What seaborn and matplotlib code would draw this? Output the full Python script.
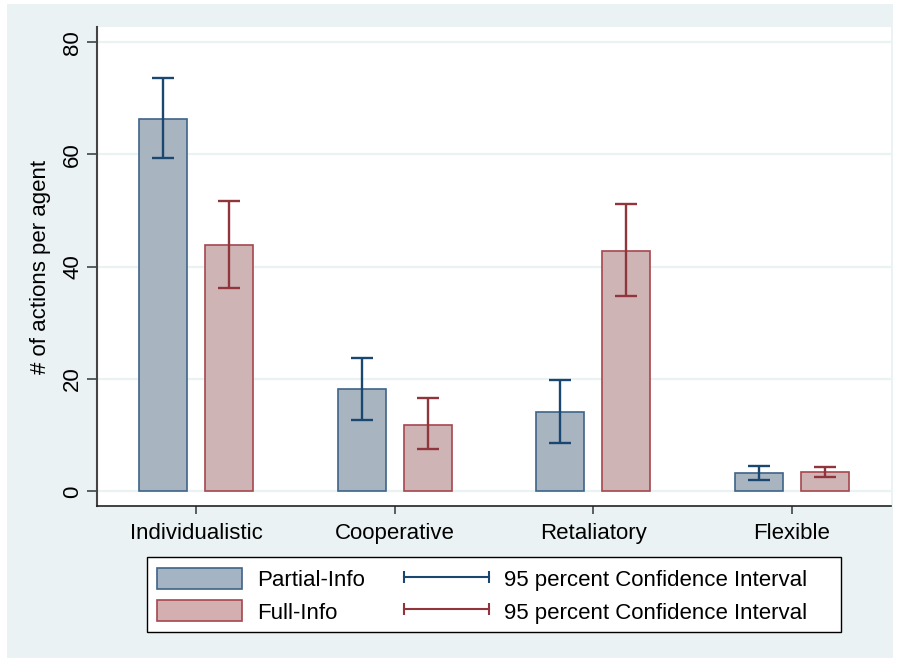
import seaborn as sns
import matplotlib.pyplot as plt
import pandas as pd
from matplotlib.patches import Patch, Rectangle
from matplotlib.lines import Line2D
from matplotlib.legend_handler import HandlerLine2D

# Data
strategies = ['Individualistic', 'Cooperative', 'Retaliatory', 'Flexible']
partial_mean = [66.3, 18.2, 14.1, 3.3]
partial_lo = [59.3, 12.8, 8.7, 2.1]
partial_hi = [73.6, 23.7, 19.8, 4.5]
full_mean = [43.9, 11.9, 42.8, 3.4]
full_lo = [36.3, 7.6, 34.8, 2.5]
full_hi = [51.7, 16.6, 51.2, 4.3]
groups = ['Partial-Info', 'Full-Info']

df = pd.DataFrame({
    'Strategy': strategies * 2,
    'Group': [groups[0]] * 4 + [groups[1]] * 4,
    'Mean': partial_mean + full_mean,
    'Lo': partial_lo + full_lo,
    'Hi': partial_hi + full_hi,
})

bg = '#EAF2F3'
fills = {'Partial-Info': '#A4B4C4', 'Full-Info': '#D4AFB2'}
edges = {'Partial-Info': '#3E6489', 'Full-Info': '#A5474E'}
ci_cols = {'Partial-Info': '#1A476F', 'Full-Info': '#90353B'}

plt.rcParams['font.family'] = ['Liberation Sans', 'DejaVu Sans']
plt.rcParams['font.size'] = 16

fig = plt.figure(figsize=(9.02, 6.58), dpi=100, facecolor='white')
fig.patches.append(Rectangle((7 / 902, 0), 886 / 902, 654 / 658, transform=fig.transFigure,
                             facecolor=bg, edgecolor='none', zorder=-10))
ax = fig.add_axes([97 / 902, 1 - 506 / 658, 794 / 902, 479 / 658])
ax.set_facecolor('white')

sns.barplot(data=df, x='Strategy', y='Mean', hue='Group', order=strategies, hue_order=groups,
            palette=fills, width=0.664, gap=0.27, errorbar=None, linewidth=1.2,
            legend=False, ax=ax, zorder=3)

# colour bar edges and add CI whiskers
for container, g in zip(ax.containers, groups):
    sub = df[df['Group'] == g].set_index('Strategy').loc[strategies]
    xs = []
    for bar in container:
        bar.set_edgecolor(edges[g])
        xs.append(bar.get_x() + bar.get_width() / 2)
    ax.errorbar(xs, sub['Mean'], yerr=[sub['Mean'] - sub['Lo'], sub['Hi'] - sub['Mean']],
                fmt='none', ecolor=ci_cols[g], elinewidth=1.7, capsize=8, capthick=1.7, zorder=4)

ax.set_xlim(-0.5, 3.5)
ax.set_ylim(-2.6, 82.7)
ax.set_yticks([0, 20, 40, 60, 80])
ax.yaxis.grid(True, color=bg, linewidth=1.6, zorder=0)
ax.set_axisbelow(True)
ax.set_xlabel('')
ax.set_ylabel('# of actions per agent', fontsize=16, labelpad=8)
for s in ['top', 'right']:
    ax.spines[s].set_visible(False)
ax.spines['left'].set_color('#444444')
ax.spines['left'].set_linewidth(1.5)
ax.spines['bottom'].set_color('#222222')
ax.spines['bottom'].set_linewidth(1.2)
ax.tick_params(axis='y', length=7, width=1.2, color='#444444', labelsize=16, labelrotation=90, pad=3)
ax.tick_params(axis='x', length=6, width=1.2, color='#444444', labelsize=16, pad=6)
for lab in ax.get_yticklabels():
    lab.set_va('center')

# legend box
fig.patches.append(Rectangle((147 / 902, 1 - 632 / 658), 694 / 902, 75 / 658, transform=fig.transFigure,
                             facecolor='white', edgecolor='black', linewidth=1.0, zorder=1))
handles = [
    Patch(facecolor=fills['Partial-Info'], edgecolor=edges['Partial-Info'], linewidth=1.2),
    Patch(facecolor=fills['Full-Info'], edgecolor=edges['Full-Info'], linewidth=1.2),
    Line2D([0, 1], [0, 0], color=ci_cols['Partial-Info'], linewidth=1.5, marker='|', markersize=9, markeredgewidth=1.5),
    Line2D([0, 1], [0, 0], color=ci_cols['Full-Info'], linewidth=1.5, marker='|', markersize=9, markeredgewidth=1.5),
]
labels = ['Partial-Info', 'Full-Info', '95 percent Confidence Interval', '95 percent Confidence Interval']
leg = fig.legend(handles, labels, ncol=2, loc='upper left', bbox_to_anchor=(157 / 902, 1 - 568 / 658),
                 bbox_transform=fig.transFigure, fontsize=16, frameon=False,
                 handler_map={Line2D: HandlerLine2D(marker_pad=0, numpoints=2)},
                 handlelength=3.83, handleheight=1.08, handletextpad=0.68, columnspacing=1.75,
                 labelspacing=0.42, borderpad=0, borderaxespad=0)
leg.set_zorder(2)

fig.savefig('out.png', dpi=100, facecolor='white')
